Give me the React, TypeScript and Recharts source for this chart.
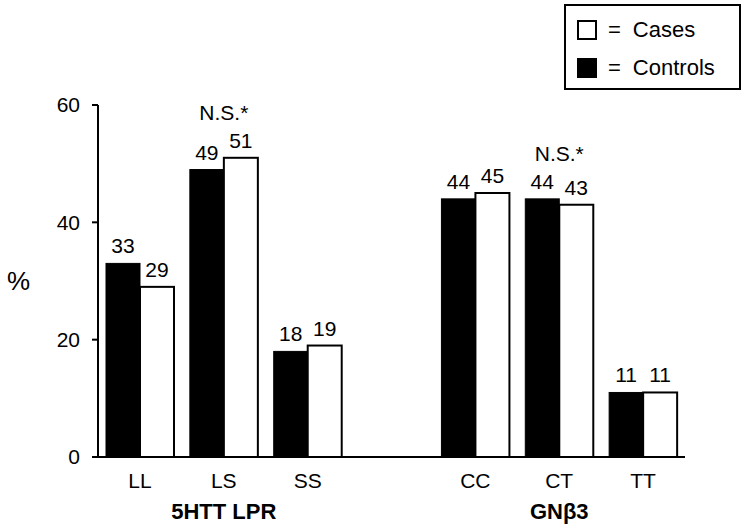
import { BarChart, Bar, XAxis, YAxis, Legend } from "recharts";

const genotypes = ["LL", "LS", "SS", "", "CC", "CT", "TT"];
const groups = ["", "5HTT LPR", "", "", "", "GNβ3", ""];
const controls = [33, 49, 18, null, 44, 44, 11];
const cases = [29, 51, 19, null, 45, 43, 11];
const notes = ["", "N.S.*", "", "", "", "N.S.*", ""];
const yTicks = [0, 20, 40, 60];

const data = genotypes.map((g, i) => ({
    genotype: g,
    group: groups[i],
    controls: controls[i],
    cases: cases[i],
    note: notes[i],
}));

const font = "'Liberation Sans', Arial, sans-serif";

const ControlsShape = (props: any) => {
    const { x, y, width, height, payload } = props;
    if (payload.controls == null) return null;
    return (
        <g>
            <rect x={x} y={y} width={width} height={height} fill="#000" stroke="#000" strokeWidth={1} />
            <text x={x + width / 2} y={y - 10} textAnchor="middle" fontSize={21} fontFamily={font} fill="#000">
                {payload.controls}
            </text>
        </g>
    );
};

const CasesShape = (props: any) => {
    const { x, y, width, height, payload } = props;
    if (payload.cases == null) return null;
    // top of the taller bar of the pair, for the significance note
    const perUnit = height / payload.cases;
    const base = y + height;
    const top = base - Math.max(payload.cases, payload.controls) * perUnit;
    return (
        <g>
            <rect x={x} y={y} width={width} height={height} fill="#fff" stroke="#000" strokeWidth={2} />
            <text x={x + width / 2} y={y - 10} textAnchor="middle" fontSize={21} fontFamily={font} fill="#000">
                {payload.cases}
            </text>
            {payload.note ? (
                <text x={x} y={top - 38} textAnchor="middle" fontSize={21} fontFamily={font} fill="#000">
                    {payload.note}
                </text>
            ) : null}
        </g>
    );
};

const legendItems = [
    { label: "Cases", fill: "#fff" },
    { label: "Controls", fill: "#000" },
];

const LegendBox = () => (
    <div
        style={{
            position: "relative",
            width: 177,
            height: 86,
            boxSizing: "border-box",
            border: "2px solid #000",
            background: "#fff",
            fontFamily: font,
            fontSize: 22,
            color: "#000",
        }}
    >
        {legendItems.map((item, i) => (
            <div
                key={item.label}
                style={{
                    position: "absolute",
                    left: 11,
                    top: 14 + i * 38,
                    height: 20,
                    display: "flex",
                    alignItems: "center",
                    whiteSpace: "nowrap",
                }}
            >
                <span
                    style={{
                        display: "inline-block",
                        width: 20,
                        height: 20,
                        boxSizing: "border-box",
                        border: "2px solid #000",
                        background: item.fill,
                    }}
                />
                <span style={{ marginLeft: 11 }}>=</span>
                <span style={{ marginLeft: 12 }}>{item.label}</span>
            </div>
        ))}
    </div>
);

export default function App() {
    return (
        <div style={{ width: 749, height: 529, background: "#fff" }}>
            <style>{`body{margin:0;background:#fff}`}</style>
            <BarChart
                width={749}
                height={529}
                data={data}
                margin={{ top: 105, right: 64, left: 1, bottom: 0 }}
                barSize={34}
                barGap={0}
            >
                <XAxis
                    dataKey="genotype"
                    interval={0}
                    height={30}
                    tickLine={false}
                    tickMargin={10}
                    axisLine={{ stroke: "#000", strokeWidth: 2 }}
                    tick={{ fontSize: 21, fill: "#000", fontFamily: font }}
                />
                <XAxis
                    xAxisId="group"
                    dataKey="group"
                    interval={0}
                    height={42}
                    tickLine={false}
                    tickMargin={10}
                    axisLine={false}
                    tick={{ fontSize: 22, fill: "#000", fontFamily: font, fontWeight: "bold" }}
                />
                <YAxis
                    width={97}
                    domain={[0, 60]}
                    ticks={yTicks}
                    tickSize={6}
                    tickMargin={12}
                    axisLine={{ stroke: "#000", strokeWidth: 2 }}
                    tickLine={{ stroke: "#000", strokeWidth: 2 }}
                    tick={{ fontSize: 21, fill: "#000", fontFamily: font }}
                    label={{
                        value: "%",
                        position: "insideLeft",
                        offset: 6,
                        style: { fontSize: 26, fill: "#000", fontFamily: font },
                    }}
                />
                <Legend
                    layout="horizontal"
                    verticalAlign="middle"
                    align="center"
                    wrapperStyle={{ top: 4, left: 564, width: 177, height: 86 }}
                    content={() => <LegendBox />}
                />
                <Bar dataKey="controls" name="Controls" fill="#000" shape={ControlsShape} isAnimationActive={false} />
                <Bar dataKey="cases" name="Cases" fill="#fff" shape={CasesShape} isAnimationActive={false} />
            </BarChart>
        </div>
    );
}
